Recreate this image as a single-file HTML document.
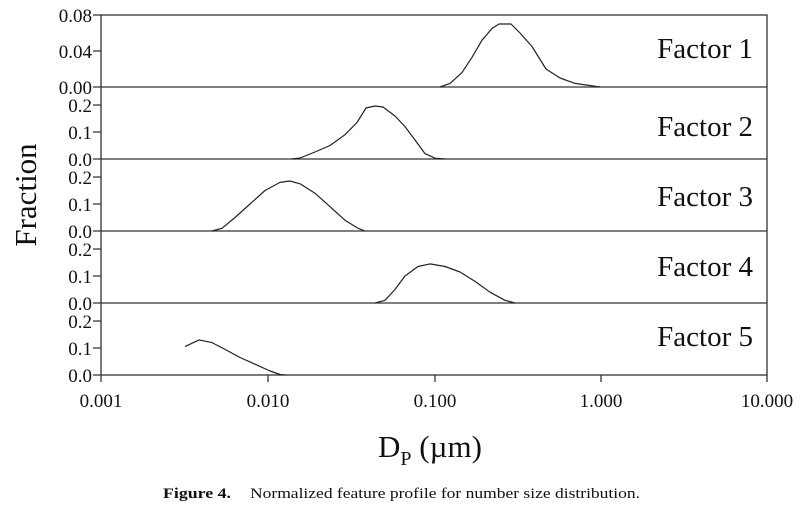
<!DOCTYPE html>
<html><head><style>
html,body{margin:0;padding:0;background:#fff;}
svg{display:block;}
text{font-family:"Liberation Serif",serif;fill:#111;}
</style></head><body>
<svg width="800" height="512" viewBox="0 0 800 512" xmlns="http://www.w3.org/2000/svg">
<g stroke="#333" stroke-width="1.3" fill="none">
<rect x="101" y="15" width="666" height="360"/>
<line x1="101" y1="87" x2="767" y2="87"/>
<line x1="101" y1="159" x2="767" y2="159"/>
<line x1="101" y1="231" x2="767" y2="231"/>
<line x1="101" y1="303" x2="767" y2="303"/>
<path d="M93 15H101M93 51H101M93 87H101
M93 105H101M93 132H101M93 159H101
M93 177H101M93 204H101M93 231H101
M93 249H101M93 276H101M93 303H101
M93 321H101M93 348H101M93 375H101"/>
<path d="M101 375V382M268 375V382M435 375V382M601 375V382M767 375V382"/>
</g>
<g stroke="#222" stroke-width="1.2" fill="none" stroke-linejoin="round">
<polyline points="440,87 450,83.4 462,72.6 472,57.3 482,40.2 492,28.5 499,24 511,24 520,33 532,46.5 546,69 560,78 575,83.4 600,87"/>
<polyline points="292,159 300,158 315,152 330,145.5 345,134.7 357,122.5 366,108 375,106 383,107 395,116 405,126.6 415,140 425,153.6 435,158.2 445,159"/>
<polyline points="212,231 222,228.3 235,217.5 250,204 265,190.5 280,182.4 290,181 300,183.8 315,193.2 330,206.7 345,220.2 358,228.3 365,231"/>
<polyline points="375,303 385,300.3 395,289.5 405,276 418,266.5 430,263.9 445,266.5 460,272 475,281.4 490,292.2 505,300.3 515,303"/>
<polyline points="185,346.6 199,339.9 212,342.6 225,349.4 240,357.5 255,364.2 270,371 280,374.5 285,375"/>
</g>
<g font-size="19" text-anchor="end">
<text x="92" y="22">0.08</text><text x="92" y="58">0.04</text><text x="92" y="94">0.00</text>
<text x="92" y="112">0.2</text><text x="92" y="139">0.1</text><text x="92" y="166">0.0</text>
<text x="92" y="184">0.2</text><text x="92" y="211">0.1</text><text x="92" y="238">0.0</text>
<text x="92" y="256">0.2</text><text x="92" y="283">0.1</text><text x="92" y="310">0.0</text>
<text x="92" y="328">0.2</text><text x="92" y="355">0.1</text><text x="92" y="382">0.0</text>
</g>
<g font-size="19" text-anchor="middle">
<text x="101" y="407">0.001</text><text x="268" y="407">0.010</text><text x="435" y="407">0.100</text><text x="601" y="407">1.000</text><text x="767" y="407">10.000</text>
</g>
<g font-size="29" text-anchor="end">
<text x="753" y="58">Factor 1</text>
<text x="753" y="136">Factor 2</text>
<text x="753" y="206">Factor 3</text>
<text x="753" y="276">Factor 4</text>
<text x="753" y="346">Factor 5</text>
</g>
<text font-size="31" text-anchor="middle" transform="translate(36,195) rotate(-90)">Fraction</text>
<text x="378" y="457" font-size="31">D<tspan font-size="20" dy="8">P</tspan><tspan dy="-8"> (µm)</tspan></text>
<text x="163" y="498" font-size="15" font-weight="bold" textLength="68" lengthAdjust="spacingAndGlyphs">Figure 4.</text>
<text x="250" y="498" font-size="15" textLength="390" lengthAdjust="spacingAndGlyphs">Normalized feature profile for number size distribution.</text>
</svg>
</body></html>
